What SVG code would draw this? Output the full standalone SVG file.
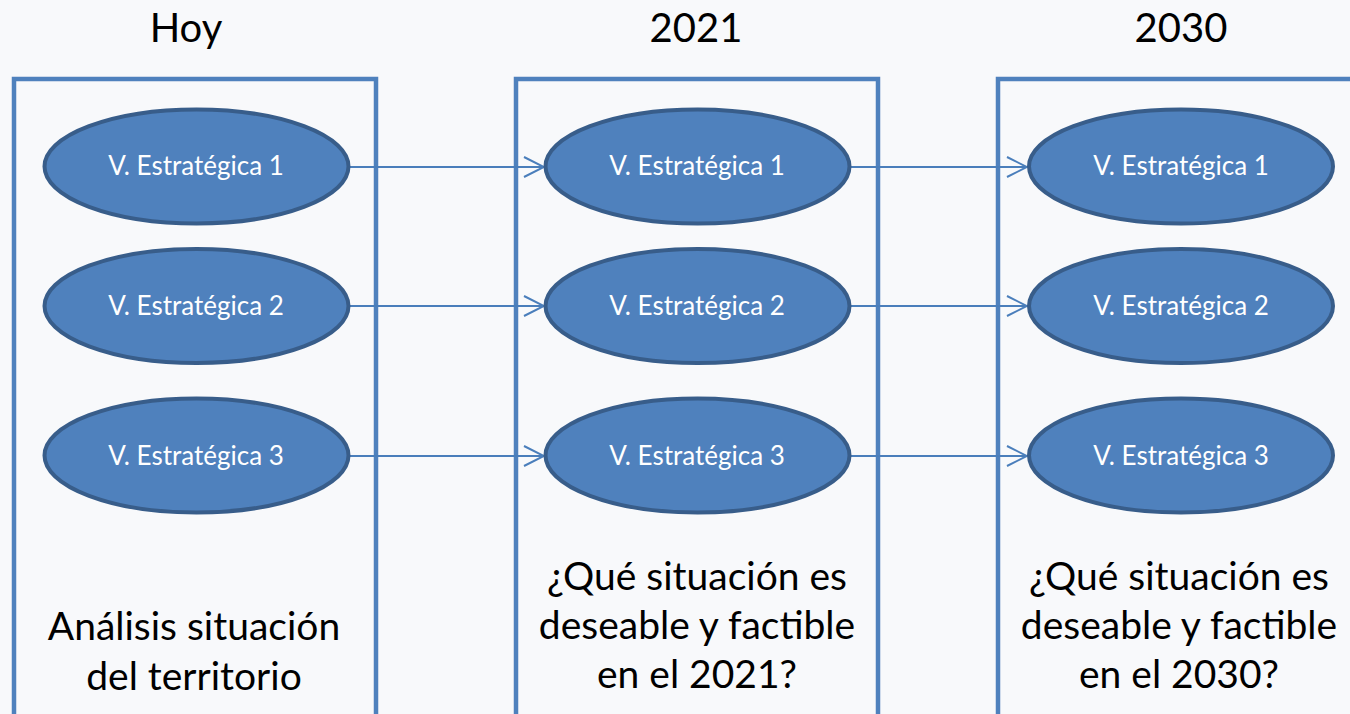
<svg xmlns="http://www.w3.org/2000/svg" width="1350" height="714" viewBox="0 0 1350 714">
<defs>
<style>
.frame{fill:none;stroke:#4f81bd;stroke-width:4.5}
.ell{fill:#4f81bd;stroke:#385d8a;stroke-width:4}
.et{font-family:Lato,"Open Sans",sans-serif;font-size:26px;fill:#ffffff;text-anchor:middle}
.hd{font-family:Lato,"Open Sans",sans-serif;font-size:40px;fill:#000000;text-anchor:middle}
.bt{font-family:Lato,"Open Sans",sans-serif;font-size:39px;fill:#000000;text-anchor:middle}
.conn{fill:none;stroke:#4a7ebb;stroke-width:2}
</style>
<marker id="arr" markerUnits="userSpaceOnUse" markerWidth="24" markerHeight="24" viewBox="-22 -12 24 24" refX="0" refY="0" orient="auto">
<path d="M-20,-10 L0,0 L-20,10" fill="none" stroke="#4a7ebb" stroke-width="2"/>
</marker>
</defs>
<rect x="0" y="0" width="1350" height="714" fill="#f8f9fb"/>
<g id="col-hoy">
<text class="hd" x="186" y="42">Hoy</text>
<path class="frame" d="M14,720 L14,79 L376,79 L376,720"/>
<text class="bt" x="194" y="640">Análisis situación</text>
<text class="bt" x="194" y="690">del territorio</text>
</g>
<g id="col-2021">
<text class="hd" x="696" y="42">2021</text>
<path class="frame" d="M516,720 L516,79 L878,79 L878,720"/>
<text class="bt" x="697" y="590">¿Qué situación es</text>
<text class="bt" x="697" y="639">deseable y factible</text>
<text class="bt" x="697" y="688">en el 2021?</text>
</g>
<g id="col-2030">
<text class="hd" x="1181" y="42">2030</text>
<path class="frame" d="M998,720 L998,79 L1360,79"/>
<text class="bt" x="1179" y="590">¿Qué situación es</text>
<text class="bt" x="1179" y="639">deseable y factible</text>
<text class="bt" x="1179" y="688">en el 2030?</text>
</g>
<g id="connectors">
<line class="conn" x1="350" y1="167" x2="544" y2="167" marker-end="url(#arr)"/>
<line class="conn" x1="350" y1="306" x2="544" y2="306" marker-end="url(#arr)"/>
<line class="conn" x1="350" y1="456" x2="544" y2="456" marker-end="url(#arr)"/>
<line class="conn" x1="850" y1="167" x2="1027" y2="167" marker-end="url(#arr)"/>
<line class="conn" x1="850" y1="306" x2="1027" y2="306" marker-end="url(#arr)"/>
<line class="conn" x1="850" y1="456" x2="1027" y2="456" marker-end="url(#arr)"/>
</g>
<g id="hoy-v1"><ellipse class="ell" cx="196.5" cy="166.5" rx="152" ry="57"/><text class="et" x="196" y="175">V. Estratégica 1</text></g>
<g id="hoy-v2"><ellipse class="ell" cx="196.5" cy="306" rx="152" ry="57"/><text class="et" x="196" y="315">V. Estratégica 2</text></g>
<g id="hoy-v3"><ellipse class="ell" cx="196.5" cy="455.5" rx="152" ry="57"/><text class="et" x="196" y="465">V. Estratégica 3</text></g>
<g id="y2021-v1"><ellipse class="ell" cx="697.5" cy="166.5" rx="152" ry="57"/><text class="et" x="697" y="175">V. Estratégica 1</text></g>
<g id="y2021-v2"><ellipse class="ell" cx="697.5" cy="306" rx="152" ry="57"/><text class="et" x="697" y="315">V. Estratégica 2</text></g>
<g id="y2021-v3"><ellipse class="ell" cx="697.5" cy="455.5" rx="152" ry="57"/><text class="et" x="697" y="465">V. Estratégica 3</text></g>
<g id="y2030-v1"><ellipse class="ell" cx="1181" cy="166.5" rx="152" ry="57"/><text class="et" x="1181" y="175">V. Estratégica 1</text></g>
<g id="y2030-v2"><ellipse class="ell" cx="1181" cy="306" rx="152" ry="57"/><text class="et" x="1181" y="315">V. Estratégica 2</text></g>
<g id="y2030-v3"><ellipse class="ell" cx="1181" cy="455.5" rx="152" ry="57"/><text class="et" x="1181" y="465">V. Estratégica 3</text></g>
</svg>
